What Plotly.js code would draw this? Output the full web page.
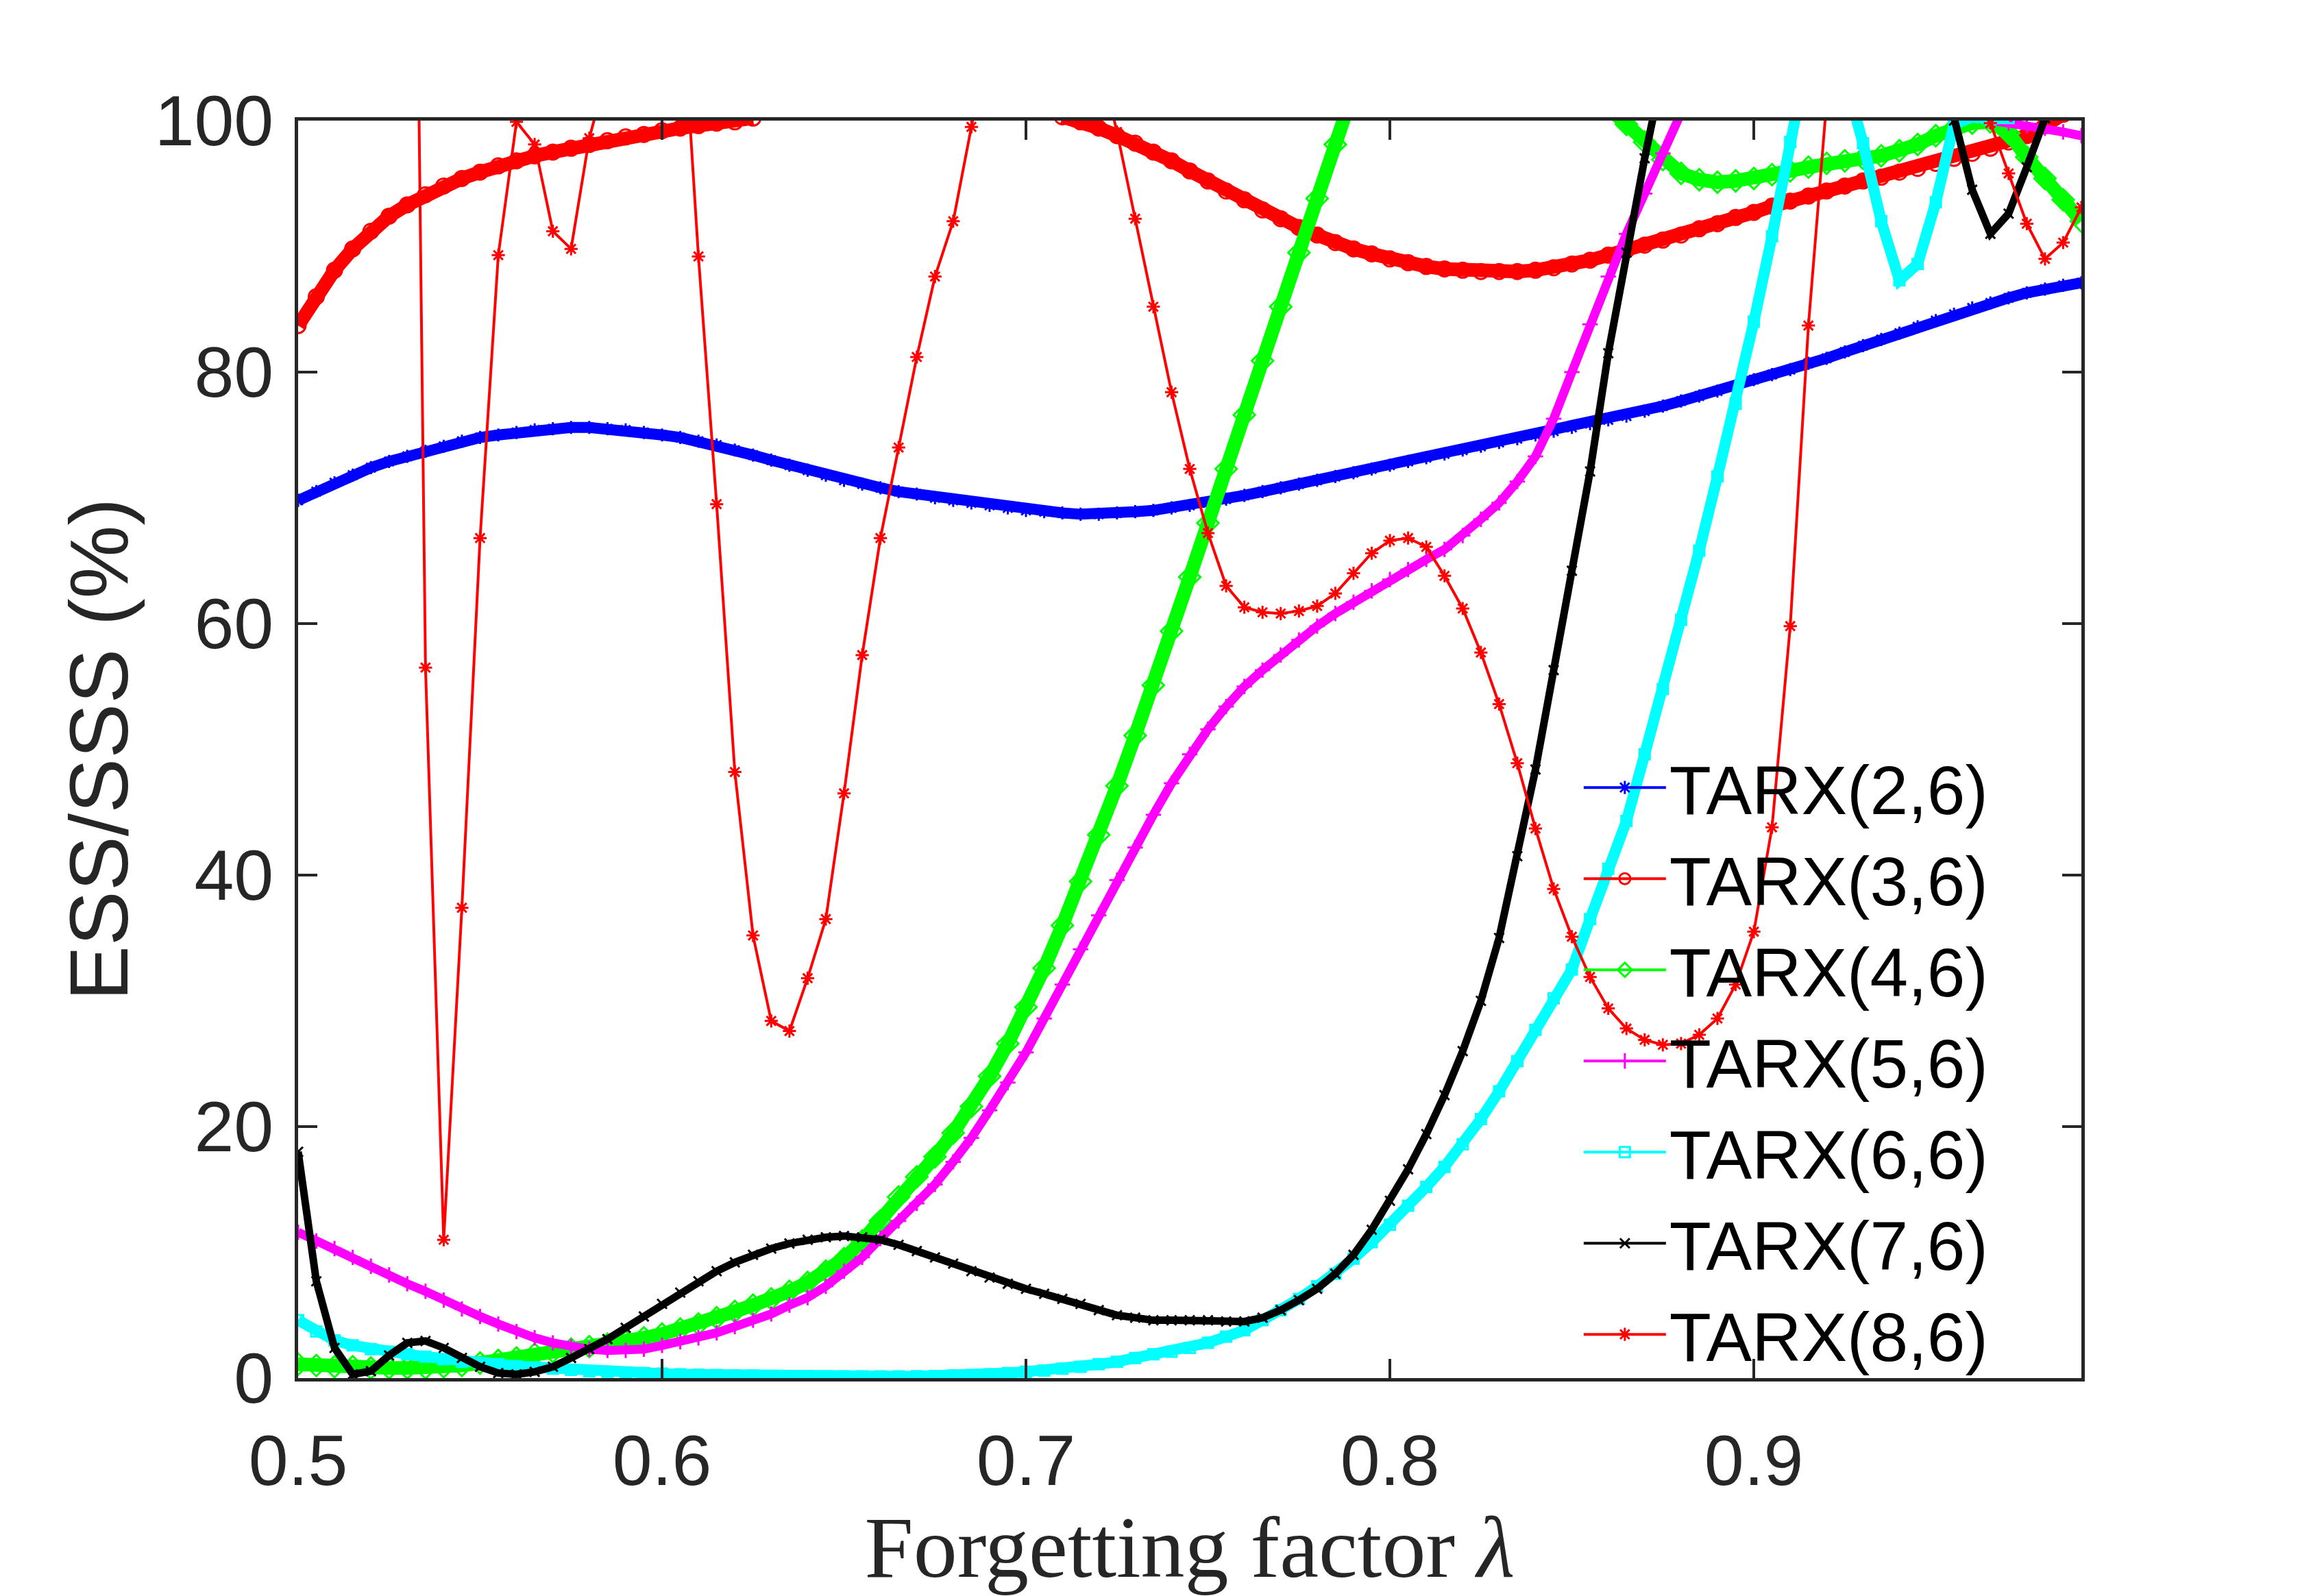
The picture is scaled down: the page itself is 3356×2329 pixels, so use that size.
<!DOCTYPE html>
<html>
<head>
<meta charset="utf-8">
<script src="https://cdn.plot.ly/plotly-3.0.1.min.js"></script>
<style>
  html, body { margin: 0; padding: 0; background: #fff; }
  #chart { width: 3356px; height: 2329px; }
</style>
</head>
<body>
<div id="chart"></div>
<script>
// forgetting factor grid, 0.500 ... 0.990
const lambda = [
  0.500, 0.505, 0.510, 0.515, 0.520, 0.525, 0.530, 0.535, 0.540, 0.545,
  0.550, 0.555, 0.560, 0.565, 0.570, 0.575, 0.580, 0.585, 0.590, 0.595,
  0.600, 0.605, 0.610, 0.615, 0.620, 0.625, 0.630, 0.635, 0.640, 0.645,
  0.650, 0.655, 0.660, 0.665, 0.670, 0.675, 0.680, 0.685, 0.690, 0.695,
  0.700, 0.705, 0.710, 0.715, 0.720, 0.725, 0.730, 0.735, 0.740, 0.745,
  0.750, 0.755, 0.760, 0.765, 0.770, 0.775, 0.780, 0.785, 0.790, 0.795,
  0.800, 0.805, 0.810, 0.815, 0.820, 0.825, 0.830, 0.835, 0.840, 0.845,
  0.850, 0.855, 0.860, 0.865, 0.870, 0.875, 0.880, 0.885, 0.890, 0.895,
  0.900, 0.905, 0.910, 0.915, 0.920, 0.925, 0.930, 0.935, 0.940, 0.945,
  0.950, 0.955, 0.960, 0.965, 0.970, 0.975, 0.980, 0.985, 0.990
];

// ESS/SSS (%) per model, null = off the chart (above 100)
const tarx26 = [
  69.8, 70.5, 71.2, 71.8, 72.4, 72.9, 73.3, 73.7, 74.1, 74.5,
  74.8, 75.0, 75.2, 75.4, 75.5, 75.6, 75.6, 75.5, 75.4, 75.2,
  75.0, 74.8, 74.5, 74.2, 73.8, 73.4, 73.0, 72.6, 72.2, 71.8,
  71.4, 71.1, 70.8, 70.5, 70.3, 70.0, 69.8, 69.6, 69.4, 69.2,
  69.0, 68.9, 68.8, 68.7, 68.7, 68.8, 68.9, 69.0, 69.2, 69.4,
  69.6, 69.9, 70.2, 70.5, 70.8, 71.1, 71.4, 71.7, 72.0, 72.3,
  72.6, 72.9, 73.2, 73.5, 73.8, 74.1, 74.4, 74.7, 75.0, 75.3,
  75.6, 75.9, 76.2, 76.5, 76.9, 77.3, 77.7, 78.1, 78.5, 78.9,
  79.4, 79.8, 80.2, 80.7, 81.1, 81.6, 82.1, 82.6, 83.1, 83.6,
  84.1, 84.6, 85.1, 85.5, 85.9, 86.3, 86.6, 86.9, 87.1
];
const tarx36 = [
  83.7, 86.0, 88.1, 89.8, 91.2, 92.4, 93.3, 94.1, 94.8, 95.4,
  95.9, 96.4, 96.8, 97.2, 97.5, 97.8, 98.1, 98.4, 98.7, 98.9,
  99.2, 99.4, 99.6, 99.8, 99.9, 100.2, null, null, null, null,
  null, null, null, null, null, null, null, null, null, null,
  null, null, 100.3, 99.9, 99.4, 98.8, 98.2, 97.5, 96.8, 96.0,
  95.2, 94.4, 93.7, 92.9, 92.2, 91.5, 90.9, 90.3, 89.8, 89.4,
  89.0, 88.7, 88.4, 88.2, 88.1, 88.0, 88.0, 88.0, 88.1, 88.3,
  88.6, 88.9, 89.3, 89.7, 90.1, 90.5, 90.9, 91.4, 91.8, 92.3,
  92.7, 93.2, 93.6, 94.0, 94.4, 94.8, 95.2, 95.5, 95.9, 96.2,
  96.6, 97.0, 97.4, 97.8, 98.3, 98.8, 99.6, 100.5, null
];
const tarx46 = [
  1.1, 1.0, 0.9, 0.9, 0.8, 0.8, 0.8, 0.8, 0.9, 1.0,
  1.2, 1.4, 1.6, 1.9, 2.1, 2.3, 2.5, 2.7, 2.9, 3.2,
  3.5, 3.9, 4.3, 4.8, 5.3, 5.8, 6.3, 6.9, 7.6, 8.5,
  9.5, 10.9, 12.5, 14.4, 16.0, 17.6, 19.5, 21.6, 24.0, 26.6,
  29.5, 32.6, 36.0, 39.5, 43.2, 47.1, 51.1, 55.1, 59.4, 63.7,
  68.0, 72.3, 76.6, 80.9, 85.2, 89.5, 93.8, 98.1, 102.4, null,
  null, null, null, null, null, null, null, null, null, null,
  null, null, 101.0, 99.7, 98.3, 96.9, 95.8, 95.3, 95.1, 95.2,
  95.4, 95.7, 96.0, 96.3, 96.6, 96.8, 97.0, 97.2, 97.6, 98.1,
  98.8, 99.4, 99.8, 99.9, 99.0, 97.1, 95.4, 93.7, 92.0
];
const tarx56 = [
  11.6, 10.9, 10.3, 9.6, 8.9, 8.2, 7.5, 6.9, 6.2, 5.5,
  4.9, 4.3, 3.7, 3.2, 2.8, 2.5, 2.3, 2.2, 2.2, 2.3,
  2.6, 2.9, 3.2, 3.6, 4.1, 4.6, 5.1, 5.8, 6.4, 7.3,
  8.5, 9.6, 11.1, 12.5, 13.9, 15.4, 17.2, 19.1, 21.3, 23.5,
  25.9, 28.6, 31.3, 34.1, 36.8, 39.6, 42.2, 44.8, 47.3, 49.6,
  51.6, 53.4, 55.0, 56.3, 57.5, 58.7, 59.8, 60.8, 61.7, 62.6,
  63.5, 64.3, 65.1, 65.9, 67.0, 68.3, 69.6, 71.3, 73.3, 76.3,
  80.0, 83.8, 87.6, 91.0, 94.2, 97.4, 100.6, null, null, null,
  null, null, null, null, null, null, null, null, null, null,
  null, null, 100.4, 100.0, 99.8, 99.6, 99.4, 99.1, 98.8
];
const tarx66 = [
  4.6, 3.7, 3.0, 2.6, 2.3, 2.1, 1.9, 1.7, 1.5, 1.3,
  1.2, 1.1, 0.95, 0.85, 0.75, 0.65, 0.55, 0.5, 0.45, 0.4,
  0.35, 0.3, 0.27, 0.25, 0.22, 0.2, 0.18, 0.16, 0.15, 0.14,
  0.13, 0.13, 0.13, 0.14, 0.15, 0.17, 0.2, 0.25, 0.3, 0.4,
  0.5, 0.6, 0.75, 0.9, 1.1, 1.3, 1.6, 1.9, 2.1, 2.4,
  2.8, 3.3, 3.8, 4.6, 5.4, 6.3, 7.3, 8.3, 9.5, 10.8,
  12.2, 13.7, 15.2, 16.8, 18.6, 20.6, 22.8, 25.2, 27.7, 30.2,
  32.5, 36.5, 40.5, 44.3, 49.6, 54.8, 60.3, 65.8, 71.7, 77.5,
  84.0, 90.8, 98.3, 105.5, null, 103.5, 98.2, 92.0, 87.3, 88.6,
  93.5, 99.7, 100.3, 100.1, 100.2, null, null, null, null
];
const tarx76 = [
  18.0, 7.7, 2.4, 0.3, 0.55, 1.8, 2.8, 2.95, 2.4, 1.6,
  0.9, 0.4, 0.3, 0.5, 0.9, 1.6, 2.3, 3.1, 4.0, 4.9,
  5.9, 6.8, 7.7, 8.5, 9.2, 9.8, 10.3, 10.7, 11.0, 11.2,
  11.3, 11.2, 11.0, 10.6, 10.1, 9.6, 9.1, 8.5, 8.0, 7.5,
  7.1, 6.7, 6.3, 5.9, 5.4, 5.0, 4.8, 4.6, 4.6, 4.6,
  4.6, 4.5, 4.5, 4.8, 5.4, 6.2, 7.1, 8.3, 9.8, 11.8,
  14.1, 16.6, 19.4, 22.5, 26.0, 30.0, 35.0, 41.5, 48.4, 56.3,
  64.2, 72.1, 81.5, 89.5, 97.0, 104.0, null, null, null, null,
  null, null, null, null, null, null, null, null, null, null,
  106.0, 100.0, 94.5, 91.0, 92.6, 96.3, 100.2, null, null
];
const tarx86 = [
  null, null, null, null, null, null, 180.0, 56.5, 11.0, 37.4,
  66.8, 89.3, 99.9, 98.1, 91.2, 89.8, 98.6, 104.0, null, null,
  null, 112.0, 89.2, 69.5, 48.2, 35.2, 28.4, 27.6, 31.8, 36.5,
  46.5, 57.5, 66.8, 74.0, 81.2, 87.6, 92.0, 99.5, 107.0, null,
  null, null, null, null, 105.2, 99.1, 92.2, 85.2, 78.4, 72.3,
  67.2, 63.0, 61.3, 60.9, 60.8, 61.0, 61.4, 62.4, 64.0, 65.6,
  66.6, 66.8, 66.1, 63.8, 61.2, 57.7, 53.6, 48.9, 43.7, 38.9,
  35.1, 31.9, 29.4, 27.8, 26.9, 26.5, 26.6, 27.3, 28.6, 31.3,
  35.5, 43.8, 59.8, 83.7, 101.5, null, null, null, null, null,
  null, null, 107.0, 99.8, 95.8, 91.8, 89.0, 90.3, 93.1
];

const seriesNames = ["TARX(2,6)", "TARX(3,6)", "TARX(4,6)", "TARX(5,6)",
                     "TARX(6,6)", "TARX(7,6)", "TARX(8,6)"];
const seriesValues = [tarx26, tarx36, tarx46, tarx56, tarx66, tarx76, tarx86];
const seriesColors = ["#0000ff", "#ff0000", "#00ff00", "#ff00ff",
                      "#00ffff", "#000000", "#ff0000"];
const seriesSymbols = ["asterisk-open", "circle-open", "diamond-open",
                       "cross-thin-open", "square-open", "x-thin-open", "asterisk-open"];
const markerSizes = [16, 22, 24, 16, 15, 14, 16];
// the densely packed markers of the original read as a thick band
const bandWidths = [16, 20, 20, 13, 16, 11, 0];

const axisColor = "#262626";
const sansFont = "Liberation Sans, Arial, Helvetica, sans-serif";

const traces = [];
seriesNames.forEach((name, i) => {
  if (bandWidths[i] > 0) {
    traces.push({
      x: lambda,
      y: seriesValues[i],
      type: "scatter",
      mode: "lines",
      line: { color: seriesColors[i], width: bandWidths[i] },
      showlegend: false,
      hoverinfo: "skip",
      connectgaps: false,
    });
  }
  traces.push({
    x: lambda,
    y: seriesValues[i],
    name: name,
    type: "scatter",
    mode: "lines+markers",
    line: { color: seriesColors[i], width: 4 },
    marker: {
      symbol: seriesSymbols[i],
      size: markerSizes[i],
      color: seriesColors[i],
      line: { color: seriesColors[i], width: 3 },
    },
    connectgaps: false,
    cliponaxis: true,
  });
});

const layout = {
  width: 3356,
  height: 2329,
  margin: { l: 435, r: 319, t: 176, b: 318 },
  paper_bgcolor: "#ffffff",
  plot_bgcolor: "#ffffff",
  showlegend: true,
  legend: {
    x: 0.719,
    y: 0.5086,
    xanchor: "left",
    yanchor: "top",
    bgcolor: "rgba(0,0,0,0)",
    borderwidth: 0,
    itemwidth: 120,
    tracegroupgap: 0,
    font: { family: sansFont, size: 100, color: "#000000" },
  },
  xaxis: {
    range: [0.5, 0.99],
    tickvals: [0.5, 0.6, 0.7, 0.8, 0.9],
    ticktext: ["0.5", "0.6", "0.7", "0.8", "0.9"],
    ticks: "inside",
    ticklen: 28,
    tickwidth: 4,
    tickcolor: axisColor,
    showline: true,
    linewidth: 5,
    linecolor: axisColor,
    mirror: "ticks",
    showgrid: false,
    zeroline: false,
    ticklabelstandoff: 26,
    tickfont: { family: sansFont, size: 104, color: axisColor },
    title: {
      text: "Forgetting factor <i>λ</i>",
      font: { family: "Liberation Serif, Times New Roman, serif", size: 128, color: axisColor },
      standoff: 30,
    },
  },
  yaxis: {
    range: [0, 100],
    tickvals: [0, 20, 40, 60, 80, 100],
    ticks: "inside",
    ticklen: 28,
    tickwidth: 4,
    tickcolor: axisColor,
    showline: true,
    linewidth: 5,
    linecolor: axisColor,
    mirror: "ticks",
    showgrid: false,
    zeroline: false,
    ticklabelstandoff: 10,
    tickfont: { family: sansFont, size: 104, color: axisColor },
    title: {
      text: "ESS/SSS (%)",
      font: { family: sansFont, size: 120, color: axisColor },
      standoff: 0,
    },
  },
};

Plotly.newPlot("chart", traces, layout, { displayModeBar: false, responsive: false });
</script>
</body>
</html>
